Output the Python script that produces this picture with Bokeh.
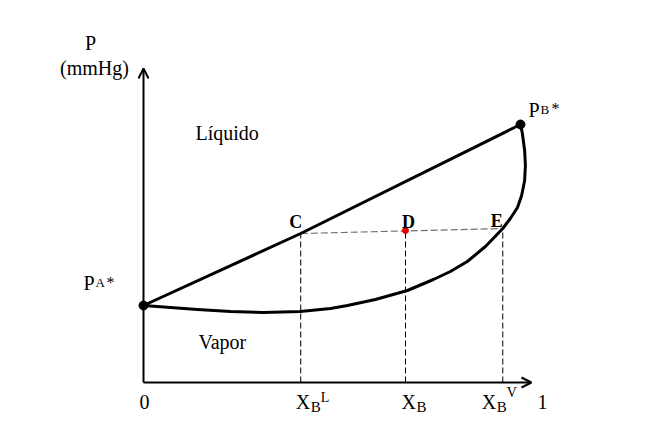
from bokeh.plotting import figure
from bokeh.models import Range1d, Arrow, OpenHead
from bokeh.core.properties import value
from bokeh.embed import file_html
from bokeh.resources import INLINE

# ---- data (mole fraction of B, pressure in arbitrary units) ----
p_a_star = 77
p_b_star = 258
liquid_x = [0.0, 0.417, 1.0]
liquid_p = [77, 149, 258]
vapor_x = [0.000, 0.072, 0.143, 0.231, 0.318, 0.416, 0.496, 0.541, 0.615,
           0.700, 0.769, 0.814, 0.859, 0.907, 0.953, 0.973, 0.992, 1.003,
           1.011, 1.013, 1.011, 1.005, 1.000]
vapor_p = [77, 75, 73, 71, 70, 71, 74, 77, 83,
           92, 103, 111, 121, 136, 154, 164, 175, 187,
           202, 217, 232, 249, 258]
tie_x = [0.417, 0.953]
tie_p = [149, 154]
x_bl, x_b, x_bv = 0.417, 0.695, 0.953
p_c, p_d, p_e = 149, 152, 154
axis_x_max = 1.029
axis_p_max = 314

# pixel helpers for free-standing labels (x=0 at 143px, P=0 at 382px)
SX = 377.0
def px(xp):
    return (xp - 143) / SX
def py(yp):
    return 382 - yp

W, H = 647, 420
x0 = -143 / SX
p = figure(width=W, height=H, output_backend="svg", toolbar_location=None,
           x_range=Range1d(x0, x0 + W / SX), y_range=Range1d(382 - H, 382),
           x_axis_location=None, y_axis_location=None, min_border=0,
           background_fill_color="white", border_fill_color="white")
p.outline_line_color = None
p.xgrid.visible = False
p.ygrid.visible = False

FONT = value('"Liberation Serif"')
TEXT_SHIFT = 6  # raise text baselines (pixels)

def txt(x, y, s, size, align="left", bold=False, xo=0, color="black"):
    p.text(x=[x], y=[y + TEXT_SHIFT], text=[s], text_font=FONT,
           text_font_size=value(f"{size}px"),
           text_align=align, text_baseline="alphabetic",
           text_font_style="bold" if bold else "normal", x_offset=xo, text_color=color)

# axes with open arrow heads
p.add_layout(Arrow(end=OpenHead(size=10, line_width=2, line_color="black"),
                   x_start=0, y_start=0, x_end=0, y_end=axis_p_max,
                   line_width=2, line_color="black"))
p.add_layout(Arrow(end=OpenHead(size=10, line_width=2, line_color="black"),
                   x_start=0, y_start=0, x_end=axis_x_max, y_end=0,
                   line_width=2, line_color="black"))

# vertical dashed lines
for xv, pv in [(x_bl, p_c), (x_b, p_d), (x_bv, p_e)]:
    p.line([xv, xv], [0, pv], line_color="black", line_width=1, line_dash="6 3")

# tie line
p.line(tie_x, tie_p, line_color="#707070", line_width=1.2, line_dash="7 3")

# liquid and vapor curves
p.line(liquid_x, liquid_p, line_color="black", line_width=3, line_join="round")
p.line(vapor_x, vapor_p, line_color="black", line_width=3, line_join="round")

# pure component points
p.scatter([0, 1], [p_a_star, p_b_star], size=9, color="black")
# point D
p.scatter([x_b], [p_d], size=6, color="#e00000")

# axis titles
txt(px(90), py(48), "P", 20, align="center")
txt(px(94), py(73), "(mmHg)", 20, align="center")

# region labels
txt(px(195), py(138), "Líquido", 20)
txt(px(198), py(347), "Vapor", 20)

# tick labels
txt(0, py(407), "0", 20, align="center", xo=1)
txt(px(537), py(407), "1", 20)

# X_B^L
txt(x_bl, py(407), "X", 20, xo=-5)
txt(x_bl, py(412), "B", 15, xo=10)
txt(x_bl, py(403), "L", 14, xo=20)
# X_B
txt(x_b, py(407), "X", 20, xo=-4)
txt(x_b, py(412), "B", 15, xo=11)
# X_B^V
txt(x_bv, py(407), "X", 20, xo=-21)
txt(x_bv, py(412), "B", 15, xo=-6)
txt(x_bv, py(398), "V", 14, xo=4)

# point labels C, D, E
txt(x_bl, py(227), "C", 18, align="center", bold=True, xo=-5)
txt(x_b, py(227), "D", 18, align="center", bold=True, xo=3)
txt(x_bv, py(226), "E", 18, align="center", bold=True, xo=-6)

# PA*
txt(px(83), py(288), "P", 20)
txt(px(95), py(288), "A", 13)
txt(px(106), py(288), "*", 16)
# PB*
txt(px(528), py(115), "P", 20)
txt(px(540), py(115), "B", 13)
txt(px(551), py(114), "*", 16)

open("out.html", "w").write(file_html(p, INLINE))
